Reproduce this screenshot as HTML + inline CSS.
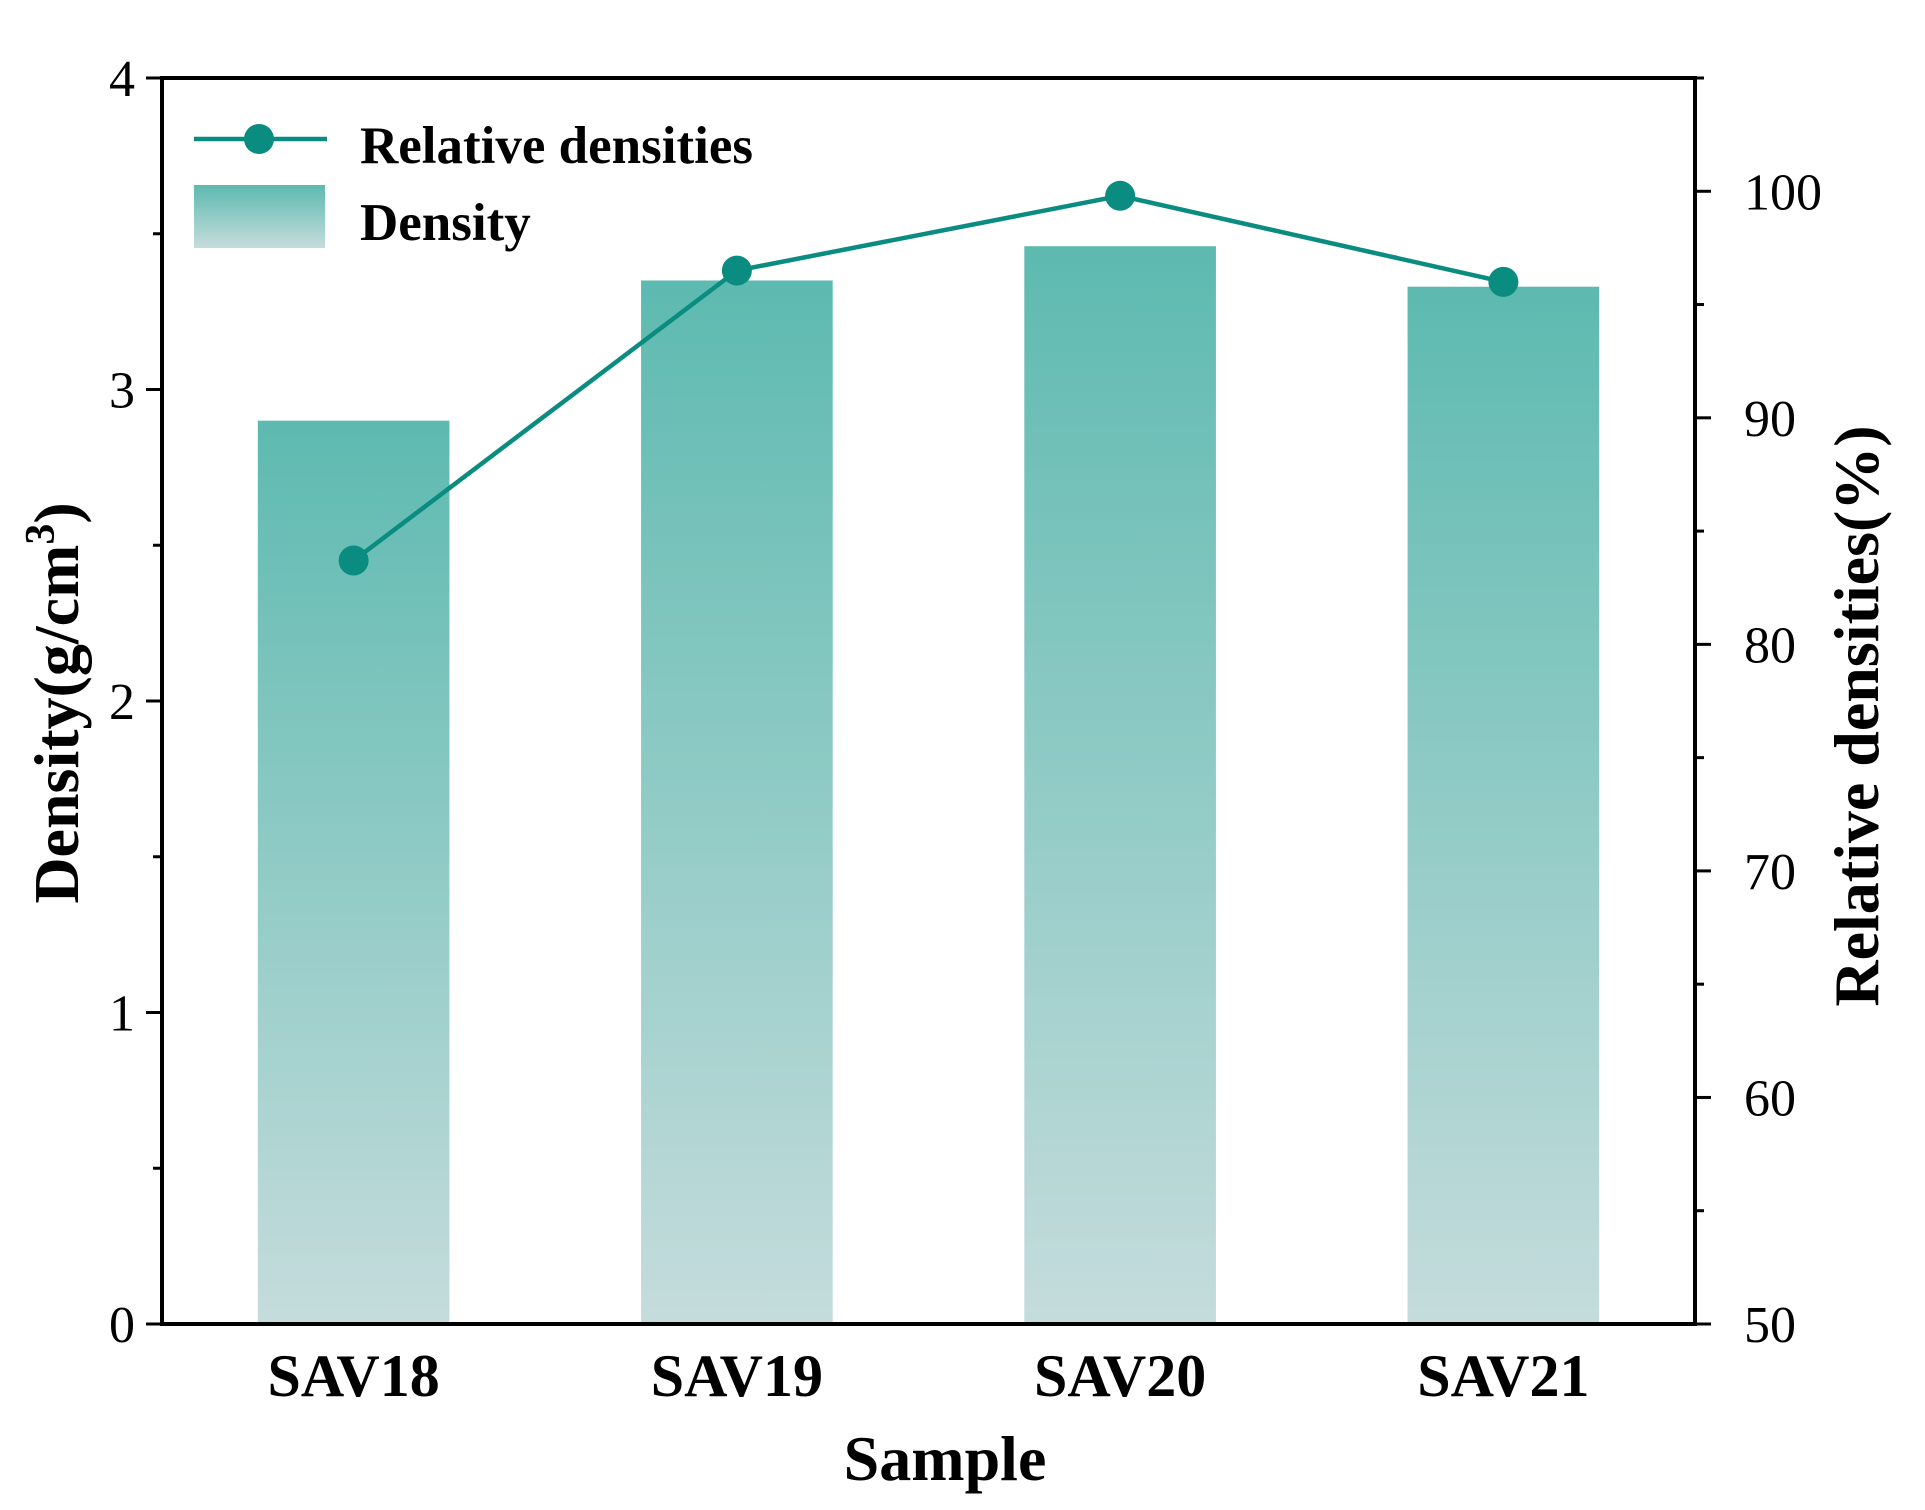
<!DOCTYPE html>
<html><head><meta charset="utf-8"><style>html,body{margin:0;padding:0;background:#fff}svg{display:block}text{font-family:"Liberation Serif",serif}</style></head>
<body>
<svg id="chart" width="1925" height="1510" viewBox="0 0 1925 1510" xmlns="http://www.w3.org/2000/svg">
<defs><linearGradient id="barGrad" x1="0" y1="0" x2="0" y2="1"><stop offset="0" stop-color="#5dbab0"/><stop offset="1" stop-color="#c5dcdc"/></linearGradient></defs>
<g id="bars"></g><g id="line"></g><g id="axes"></g>
</svg>
<script>
const categories=["SAV18","SAV19","SAV20","SAV21"];
const densityValues=[2.90,3.35,3.46,3.33];
const relativeValues=[83.7,96.5,99.8,96.0];
const leftTicks=[0,1,2,3,4];
const rightTicks=[50,60,70,80,90,100];
const NS="http://www.w3.org/2000/svg";
const L=162,R=1695,T=78,B=1324;
const band=(R-L)/categories.length;
function xC(i){return L+band*(i+0.5);}
function yL(v){return B-(v-0)/(4-0)*(B-T);}
function yR(v){return B-(v-50)/(105-50)*(B-T);}
function mk(tag,attrs,parent,txt){const e=document.createElementNS(NS,tag);for(const k in attrs)e.setAttribute(k,attrs[k]);if(txt!==undefined)e.textContent=txt;parent.appendChild(e);return e;}
const gb=document.getElementById('bars'),gl=document.getElementById('line'),ga=document.getElementById('axes');
densityValues.forEach((v,i)=>{const w=band*0.5;const r=mk('rect',{x:xC(i)-w/2,y:yL(v),width:w,height:B-yL(v),fill:'url(#barGrad)'},gb);

});
const pts=relativeValues.map((v,i)=>xC(i)+','+yR(v)).join(' ');
const pl=mk('polyline',{points:pts,fill:'none',stroke:'#0b8c80','stroke-width':4.5},gl);


relativeValues.forEach((v,i)=>{const c=mk('circle',{cx:xC(i),cy:yR(v),r:15,fill:'#0b8c80'},gl);

});
const frame=mk('rect',{x:L,y:T,width:R-L,height:B-T,fill:'none',stroke:'#000','stroke-width':4},ga);


for(let v=0;v<=4;v+=0.5){const y=yL(v);const major=Number.isInteger(v);mk('line',{x1:L,x2:L-(major?16:9),y1:y,y2:y,stroke:'#000','stroke-width':3},ga);}
leftTicks.forEach(v=>{const t=mk('text',{x:135,y:yL(v)+18,'text-anchor':'end','font-size':52},ga,String(v));

});
for(let v=50;v<=105;v+=5){const y=yR(v);const major=v%10===0;mk('line',{x1:R,x2:R+(major?16:9),y1:y,y2:y,stroke:'#000','stroke-width':3},ga);}
rightTicks.forEach(v=>{const t=mk('text',{x:1744,y:yR(v)+18,'text-anchor':'start','font-size':52},ga,String(v));

});
categories.forEach((c,i)=>{const t=mk('text',{x:xC(i),y:1396,'text-anchor':'middle','font-size':60,'font-weight':'bold'},ga,c);

});
const xt=mk('text',{x:945,y:1480,'text-anchor':'middle','font-size':64,'font-weight':'bold'},ga,'Sample');


const yt=mk('text',{x:0,y:0,transform:'translate(78,703) rotate(-90)','text-anchor':'middle','font-size':64,'font-weight':'bold'},ga);


yt.innerHTML='Density(g/cm<tspan dy="-24" font-size="42">3</tspan><tspan dy="24">)</tspan>';
const rt=mk('text',{x:0,y:0,transform:'translate(1878,716) rotate(-90)','text-anchor':'middle','font-size':64,'font-weight':'bold'},ga,'Relative densities(%)');


const lg=mk('g',{},ga);


mk('line',{x1:194,x2:327,y1:139,y2:139,stroke:'#0b8c80','stroke-width':4.5},lg);
mk('circle',{cx:259,cy:139,r:15,fill:'#0b8c80'},lg);
mk('text',{x:360,y:163,'font-size':53,'font-weight':'bold'},lg,'Relative densities');
mk('rect',{x:194,y:185,width:131,height:63,fill:'url(#barGrad)'},lg);
mk('text',{x:360,y:240,'font-size':53,'font-weight':'bold'},lg,'Density');
</script>
</body></html>
